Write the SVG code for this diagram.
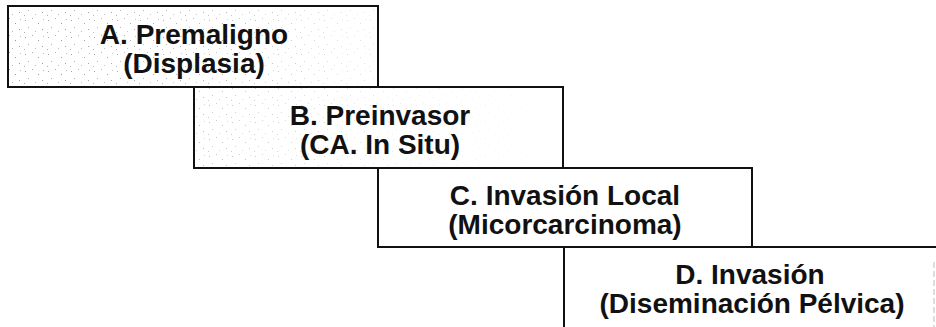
<svg xmlns="http://www.w3.org/2000/svg" width="936" height="327" viewBox="0 0 936 327">
<style>
.box{stroke:#111;stroke-width:2;}
.lbl{font-family:"Liberation Sans",Arial,Helvetica,sans-serif;font-weight:bold;font-size:28px;fill:#111;text-anchor:middle;}
</style>
<defs>
<pattern id="speck" width="23" height="17" patternUnits="userSpaceOnUse">
<rect width="23" height="17" fill="#fff"/>
<rect x="2" y="3" width="1" height="1" fill="#999"/>
<rect x="9" y="1" width="1" height="1" fill="#aaa"/>
<rect x="15" y="6" width="1" height="1" fill="#999"/>
<rect x="5" y="10" width="1" height="1" fill="#aaa"/>
<rect x="19" y="12" width="1" height="1" fill="#999"/>
<rect x="12" y="14" width="1" height="1" fill="#bbb"/>
<rect x="20" y="2" width="1" height="1" fill="#bbb"/>
<rect x="1" y="15" width="1" height="1" fill="#aaa"/>
</pattern>
<linearGradient id="fadeA" x1="0" y1="0" x2="1" y2="0">
<stop offset="0" stop-color="#fff" stop-opacity="0"/>
<stop offset="0.6" stop-color="#fff" stop-opacity="0.3"/>
<stop offset="1" stop-color="#fff" stop-opacity="0.75"/>
</linearGradient>
<linearGradient id="fadeB" x1="0" y1="0" x2="1" y2="0">
<stop offset="0" stop-color="#fff" stop-opacity="0.35"/>
<stop offset="0.6" stop-color="#fff" stop-opacity="0.8"/>
<stop offset="1" stop-color="#fff" stop-opacity="0.95"/>
</linearGradient>
</defs>
<rect width="936" height="327" fill="#fff"/>
<g id="nodeA">
<rect x="8" y="6" width="370" height="81" fill="url(#speck)"/>
<rect x="8" y="6" width="370" height="81" fill="url(#fadeA)"/>
<rect class="box" x="8" y="6" width="370" height="81" fill="none"/>
<text class="lbl" x="194" y="44">A. Premaligno</text>
<text class="lbl" x="194" y="73">(Displasia)</text>
</g>
<g id="nodeB">
<rect x="194" y="87" width="369" height="81" fill="url(#speck)"/>
<rect x="194" y="87" width="369" height="81" fill="url(#fadeB)"/>
<rect class="box" x="194" y="87" width="369" height="81" fill="none"/>
<text class="lbl" x="380" y="125">B. Preinvasor</text>
<text class="lbl" x="380" y="154">(CA. In Situ)</text>
</g>
<g id="nodeC">
<rect class="box" x="378" y="168" width="374" height="79" fill="#fff"/>
<text class="lbl" x="565" y="205">C. Invasión Local</text>
<text class="lbl" x="565" y="234">(Micorcarcinoma)</text>
</g>
<g id="nodeD">
<path class="box" d="M564 327 V247 H936" fill="none"/>
<path d="M934 262 V327" stroke="#bbb" stroke-width="1" stroke-dasharray="6 3" fill="none"/>
<text class="lbl" x="750" y="284">D. Invasión</text>
<text class="lbl" x="752" y="313">(Diseminación Pélvica)</text>
</g>
<g id="connectors"></g>
</svg>
